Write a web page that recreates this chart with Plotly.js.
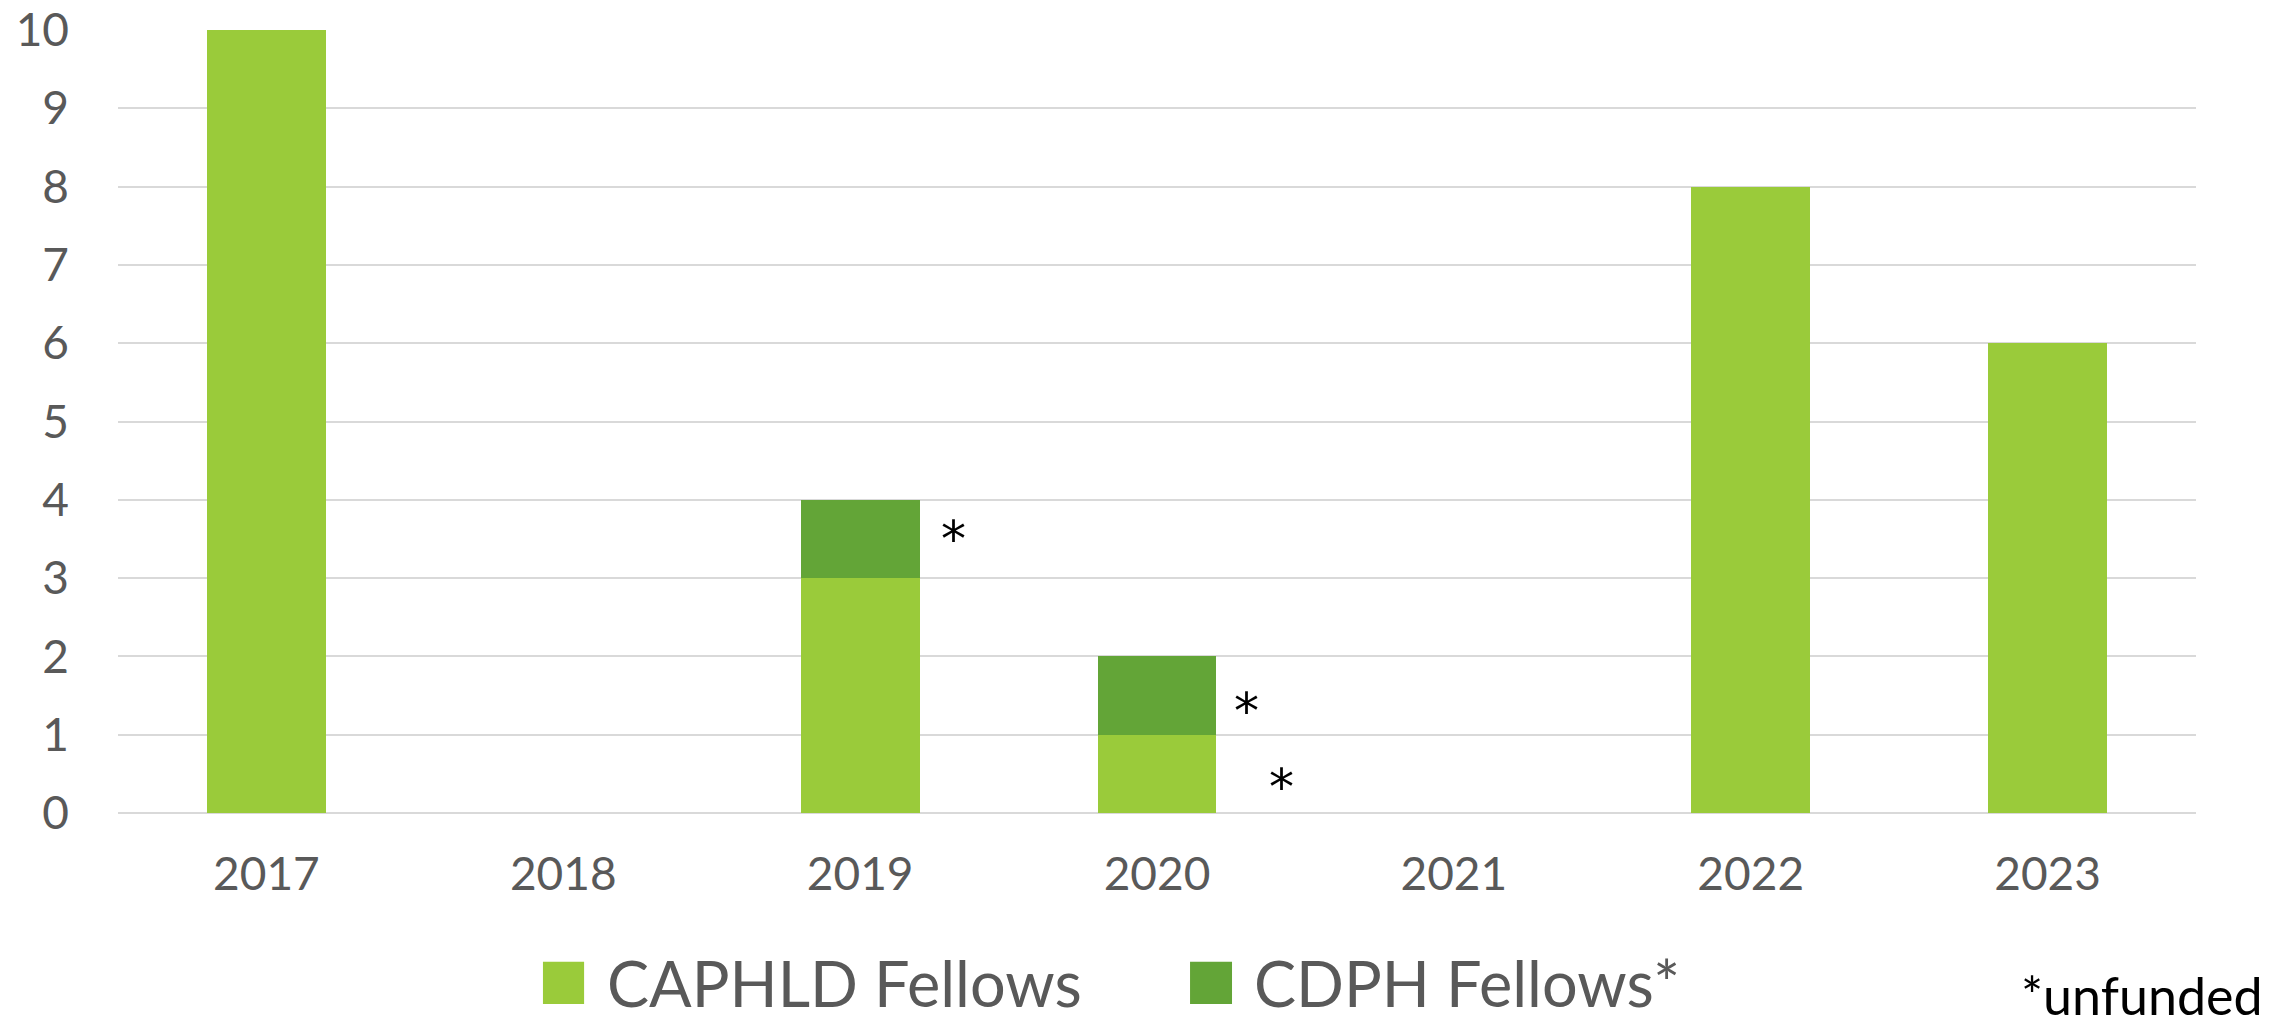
<!DOCTYPE html>
<html>
<head>
<meta charset="utf-8">
<script src="https://cdn.plot.ly/plotly-3.0.1.min.js"></script>
<style>html,body{margin:0;padding:0;background:#fff;}#chart{width:2295px;height:1028px;}</style>
</head>
<body>
<div id="chart"></div>
<script>
const years = ["2017", "2018", "2019", "2020", "2021", "2022", "2023"];
const caphldFellows = [10, 0, 3, 1, 0, 8, 6];
const cdphFellows = [0, 0, 1, 1, 0, 0, 0];
const seriesNames = ["CAPHLD Fellows", "CDPH Fellows*"];
const seriesColors = ["#9ACB3A", "#63A537"];
const yTicks = [0, 1, 2, 3, 4, 5, 6, 7, 8, 9, 10];
const footnote = "*unfunded";

const FONT = "Lato, 'Open Sans', sans-serif";

const traces = [
  {type: "bar", name: seriesNames[0], x: years, y: caphldFellows, marker: {color: seriesColors[0]}, showlegend: false, hoverinfo: "x+y+name"},
  {type: "bar", name: seriesNames[1], x: years, y: cdphFellows, marker: {color: seriesColors[1]}, showlegend: false, hoverinfo: "x+y+name"}
];

// asterisk markers next to unfunded segments
const stars = [
  {x: 2.313, y: 3.50},
  {x: 3.30, y: 1.30},
  {x: 3.42, y: 0.33}
];

const annotations = stars.map(s => ({
  xref: "x", yref: "y", x: s.x, y: s.y, text: "*", showarrow: false,
  font: {family: "'DejaVu Sans', sans-serif", size: 50, color: "#000000"}, xanchor: "center", yanchor: "middle"
}));

// custom legend (large swatches)
const legendItems = [
  {x0: 0.2045, x1: 0.2243, tx: 0.2344},
  {x0: 0.5159, x1: 0.5361, tx: 0.5457}
];
const shapes = [];
legendItems.forEach((it, i) => {
  shapes.push({type: "rect", xref: "paper", yref: "paper", x0: it.x0, x1: it.x1, y0: -0.244, y1: -0.190,
    fillcolor: seriesColors[i], line: {width: 0}});
  annotations.push({xref: "paper", yref: "paper", x: it.tx, y: -0.217, xanchor: "left", yanchor: "middle",
    text: seriesNames[i], showarrow: false, font: {family: FONT, size: 63, color: "#595959"}});
});
annotations.push({xref: "paper", yref: "paper", x: 1.0327, y: -0.233, xanchor: "right", yanchor: "middle",
  text: footnote, showarrow: false, borderpad: 0, font: {family: FONT, size: 52, color: "#000000"}});

const layout = {
  width: 2295, height: 1028,
  margin: {l: 118, r: 99, t: 30, b: 215},
  paper_bgcolor: "#ffffff", plot_bgcolor: "#ffffff",
  barmode: "stack", bargap: 0.6,
  showlegend: false,
  font: {family: FONT, color: "#595959"},
  xaxis: {
    type: "category", showgrid: false, zeroline: false, showline: false,
    tickfont: {family: FONT, size: 46, color: "#595959"}, ticks: "", ticklabelstandoff: 30
  },
  yaxis: {
    range: [0, 10], tickvals: yTicks, showgrid: true, gridcolor: "#d9d9d9", gridwidth: 2,
    zeroline: true, zerolinecolor: "#d9d9d9", zerolinewidth: 2, showline: false, ticks: "",
    tickfont: {family: FONT, size: 46, color: "#595959"}, ticklabelstandoff: 48
  },
  shapes: shapes,
  annotations: annotations
};

Plotly.newPlot("chart", traces, layout, {displayModeBar: false, staticPlot: true});
</script>
</body>
</html>
